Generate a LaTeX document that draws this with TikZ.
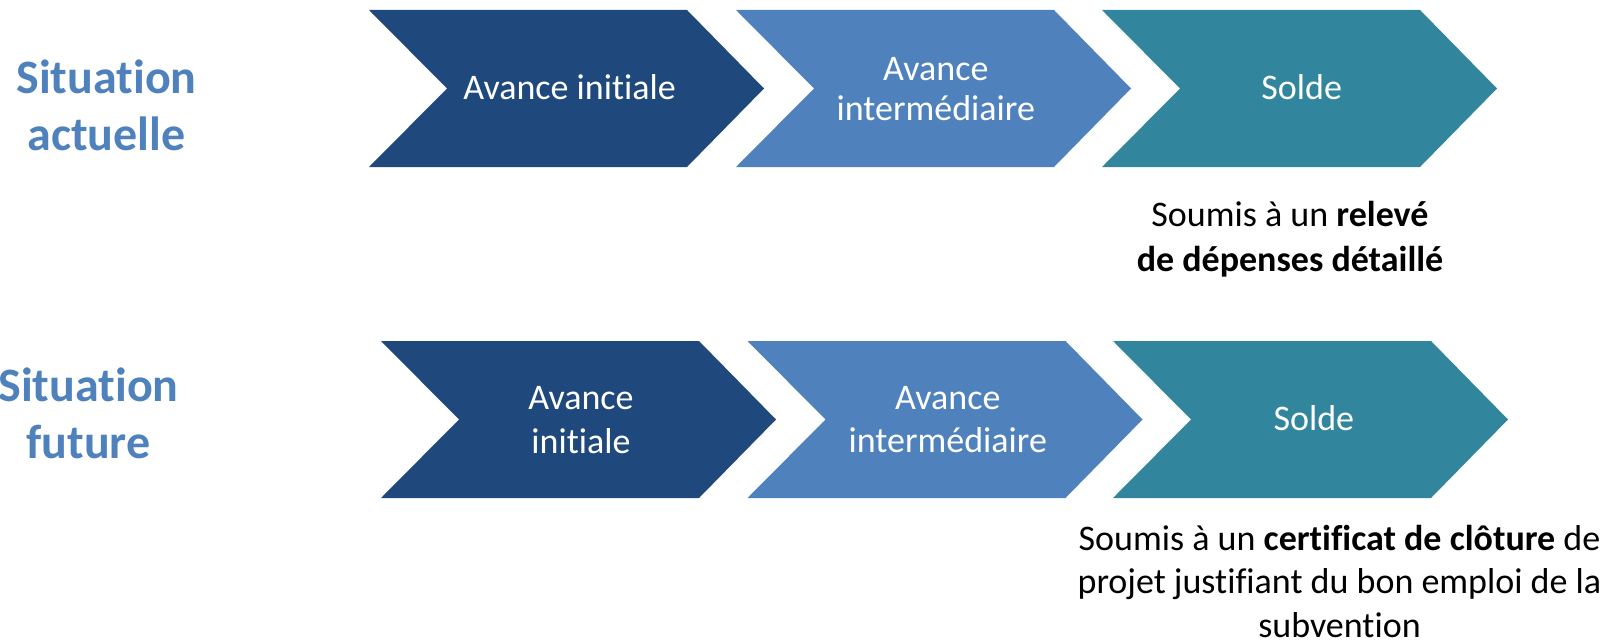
\documentclass[tikz,border=0pt]{standalone}
\usepackage{fontspec}
\setmainfont{Carlito}[Ligatures=NoCommon]
\definecolor{cnavy}{RGB}{31,73,125}
\definecolor{cblue}{RGB}{79,129,189}
\definecolor{cteal}{RGB}{49,133,156}
\tikzset{
  steptext/.style={text=white, align=center, anchor=base, inner sep=0pt,
    font=\fontsize{36}{44}\selectfont},
  sitlabel/.style={text=cblue, align=center, anchor=base, inner sep=0pt,
    font=\fontsize{48}{57}\selectfont\bfseries},
  note/.style={text=black, align=center, anchor=base, inner sep=0pt,
    font=\fontsize{36}{44}\selectfont},
}
\newcommand{\chevshape}[3]{%
  \fill[#3] (#1,#2) -- ++(318,0) -- ++(77,78.5) -- ++(-77,78.5) -- ++(-318,0) -- ++(78,-78.5) -- cycle;}
\begin{document}
\begin{tikzpicture}[x=1pt,y=-1pt]
\useasboundingbox (0,0) rectangle (1616,642);
% Row 1
\chevshape{369}{10}{cnavy}
\chevshape{736}{10}{cblue}
\chevshape{1102}{10}{cteal}
\node[sitlabel] (s1) at (106.5,150) {Situation\\actuelle};
\node[steptext] (a1) at (569.6,99) {Avance initiale};
\node[steptext, font=\fontsize{36}{40}\selectfont] (b1) at (935.8,120) {Avance\\intermédiaire};
\node[steptext] (c1) at (1301.7,99) {Solde};
\node[note, font=\fontsize{36}{45}\selectfont] (n1) at (1290,271.7) {Soumis à un \textbf{relevé}\\\textbf{de dépenses détaillé}};
% Row 2
\chevshape{381}{341}{cnavy}
\chevshape{747.5}{341}{cblue}
\chevshape{1113}{341}{cteal}
\node[sitlabel] (s2) at (88.5,458) {Situation\\future};
\node[steptext] (a2) at (581,453.3) {Avance\\initiale};
\node[steptext, font=\fontsize{36}{43.5}\selectfont] (b2) at (947.8,452.7) {Avance\\intermédiaire};
\node[steptext] (c2) at (1313.8,430.7) {Solde};
\node[note, font=\fontsize{36}{43.5}\selectfont] (n2) at (1339.5,637) {Soumis à un \textbf{certificat de clôture} de\\projet justifiant du bon emploi de la\\subvention};
\end{tikzpicture}
\end{document}
